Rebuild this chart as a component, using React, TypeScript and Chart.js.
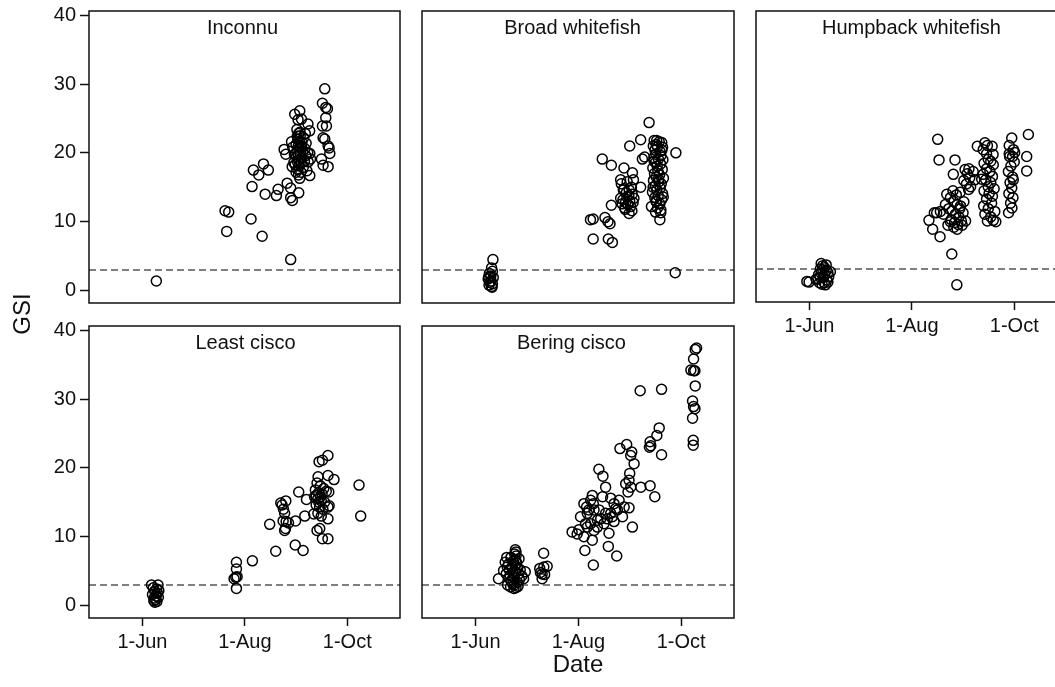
import React, { useEffect, useRef } from 'react';
import { Chart, registerables } from 'chart.js';

Chart.register(...registerables);

// ---- axis definitions (day of year) ----
const X_TICK_DAYS = [152, 213, 274];
const X_TICK_LABELS = ['1-Jun', '1-Aug', '1-Oct'];
const Y_TICKS = [0, 10, 20, 30, 40];
const X_MIN = 120.2;
const X_MAX = 305.4;
const Y_MIN = -1.8;
const Y_MAX = 40.6;
const THRESHOLD_GSI = 3;

// ---- Inconnu ----
const INCONNU_DAY = [
  160.3, 201.2, 203.4, 202.2, 216.7, 223.3, 217.3, 218.1, 221.3, 224.1, 227.0, 225.1,
  231.8, 232.8, 238.2, 240.3, 240.3, 241.3, 245.1, 240.3, 236.4, 237.4, 242.7, 245.7,
  246.7, 244.7, 250.6, 251.6, 251.7, 245.7, 250.7, 251.7, 252.1, 260.6, 259.2, 261.2,
  262.2, 261.2, 259.2, 261.6, 259.6, 260.6, 262.6, 263.2, 263.6, 258.6, 259.6, 262.6,
  244.0, 245.0, 246.0, 244.5, 245.5, 247.0, 243.5, 244.8, 246.2, 245.2, 247.5, 244.0,
  246.0, 245.0, 243.8, 247.0, 245.6, 244.4, 246.6, 243.0, 245.2, 247.8, 244.6, 246.4,
  245.0, 248.5, 249.2, 248.8, 249.5, 248.0, 242.5, 242.2, 241.5, 240.8, 241.2, 250.0,
  243.5, 249.0, 250.5, 245.8, 244.2, 246.8,
];
const INCONNU_GSI = [
  1.4, 11.6, 11.4, 8.6, 10.4, 7.9, 15.1, 17.5, 16.8, 18.4, 17.5, 14.0,
  13.8, 14.7, 15.6, 14.9, 13.5, 13.1, 14.2, 4.5, 20.5, 19.8, 25.6, 26.1,
  24.9, 24.8, 24.2, 23.2, 16.7, 16.3, 18.7, 19.9, 19.1, 29.3, 27.2, 26.6,
  26.4, 25.1, 23.9, 23.9, 22.2, 22.0, 21.0, 20.7, 19.9, 19.1, 18.2, 18.0,
  23.4, 22.8, 22.5, 22.0, 21.7, 21.5, 21.2, 21.0, 20.8, 20.5, 20.3, 20.1,
  19.9, 19.6, 19.4, 19.2, 19.0, 18.7, 18.5, 18.3, 18.1, 17.9, 17.6, 17.2,
  16.8, 18.8, 19.6, 20.6, 21.4, 22.2, 19.8, 18.6, 20.8, 21.6, 18.0, 17.4,
  17.2, 22.8, 20.0, 23.0, 22.4, 21.0,
];

// ---- Broad whitefish ----
const BROAD_DAY = [
  162.3, 161.5, 162.0, 160.2, 161.0, 162.5, 159.5, 161.2, 160.4, 162.0, 160.0, 161.5, 161.8, 159.8,
  270.5,
  221.8, 220.2, 228.8, 230.6, 231.8, 221.8, 230.8, 233.2,
  227.2, 232.6, 243.5, 250.0, 255.0, 270.9, 240.1, 245.1, 251.0, 252.4, 238.1, 245.7, 250.0,
  239.7, 238.1, 232.6, 243.1,
  238.5, 240.0, 241.5, 243.0, 239.5, 241.0, 242.5, 244.0, 240.5, 243.5, 245.0, 244.5, 242.0,
  239.0, 245.5, 241.8, 243.2, 240.8, 244.8, 246.0,
  258.0, 259.5, 261.0, 262.5, 257.5, 260.0, 263.0, 258.5, 261.5, 259.0, 262.0, 257.8, 260.5,
  263.2, 258.8, 261.8, 259.8, 257.2, 262.8, 260.2, 258.2, 261.2, 259.2, 263.5, 257.6, 260.8,
  262.2, 258.6, 261.6, 259.6, 257.0, 263.0, 260.4, 258.4, 262.4, 259.4, 261.4, 256.4, 260.0,
  262.0, 258.8, 261.9, 261.4, 259.0, 260.6, 258.0, 262.6, 259.2, 257.4, 263.4,
];
const BROAD_GSI = [
  4.5, 3.3, 2.8, 2.5, 2.1, 1.9, 1.7, 1.4, 1.2, 1.0, 0.8, 0.6, 0.5, 2.0,
  2.6,
  10.4, 10.3, 10.6, 10.0, 9.7, 7.5, 7.5, 7.0,
  19.1, 18.2, 21.0, 21.9, 24.4, 20.0, 17.8, 17.1, 19.1, 19.4, 16.1, 16.1, 15.0,
  14.6, 13.4, 12.4, 11.2,
  15.5, 14.8, 14.2, 13.8, 13.2, 12.8, 12.5, 12.2, 12.0, 13.0, 14.0, 15.0, 15.8,
  12.6, 12.8, 13.6, 14.6, 11.8, 11.6, 13.4,
  21.8, 21.8, 21.6, 21.5, 21.0, 20.9, 20.8, 20.4, 20.2, 19.8, 19.6, 19.3, 19.1,
  19.0, 18.6, 18.4, 18.1, 17.8, 17.6, 17.4, 17.0, 16.8, 16.5, 16.3, 16.0, 15.8,
  15.5, 15.2, 14.9, 14.6, 14.3, 14.1, 13.8, 13.5, 13.2, 12.9, 12.6, 12.2, 12.0,
  11.7, 11.4, 11.3, 10.3, 13.0, 16.2, 18.8, 20.4, 21.2, 15.0, 13.6,
];

// ---- Humpback whitefish ----
const HUMPBACK_DAY = [
  150.5, 151.8, 156.0, 157.5, 158.5, 159.0, 160.0, 161.0, 162.0, 163.0, 158.0, 159.5, 161.5,
  160.5, 162.5, 159.0, 161.0, 163.5, 157.0, 160.0, 164.5, 162.0, 158.5, 160.8, 163.0,
  236.8, 239.8,
  228.4, 229.2, 238.7, 237.7, 229.8, 225.4, 223.2, 226.4, 227.8, 233.8,
  236.0, 238.0, 240.0, 241.5, 237.0, 239.0, 241.0, 236.5, 238.5, 240.5, 242.5, 243.5, 242.0,
  235.0, 239.5, 241.8, 237.5, 244.0, 234.5, 238.0, 240.0, 243.0, 236.0, 245.0, 233.0, 231.8, 230.0,
  244.7, 246.0, 247.5, 245.5, 248.0, 249.5, 246.8, 244.0, 250.5, 247.0, 254.6, 252.0,
  256.5, 258.0, 260.8, 255.5, 257.5, 261.4, 258.5, 260.0, 256.0, 261.5, 257.5, 259.5, 255.5,
  261.0, 257.0, 260.0, 258.5, 262.0, 256.0, 259.0, 261.0, 257.5, 260.5, 255.8, 258.5, 262.4,
  256.5, 260.0, 261.5, 258.0, 263.0,
  272.5, 271.0, 273.5, 271.0, 273.0, 274.0, 272.0, 270.5, 273.0, 271.5, 272.5, 270.8, 273.2,
  271.8, 272.6, 270.6, 273.4, 271.2, 274.2,
  282.4, 281.4, 281.4,
];
const HUMPBACK_GSI = [
  1.2, 1.1, 1.5, 2.2, 3.0, 3.8, 3.5, 3.2, 2.8, 2.5, 1.0, 0.8, 0.7,
  1.8, 1.4, 2.4, 2.2, 1.9, 1.6, 2.9, 2.6, 3.6, 1.8, 1.0, 1.1,
  5.2, 0.7,
  21.9, 18.9, 18.9, 16.8, 7.7, 8.8, 10.1, 11.2, 11.2, 13.9,
  13.4, 12.8, 12.4, 11.8, 11.5, 11.0, 10.6, 10.2, 9.8, 9.5, 10.0, 11.2, 12.2,
  11.8, 13.8, 14.2, 14.4, 12.8, 9.4, 9.1, 8.8, 9.4, 9.9, 10.0, 12.4, 11.0, 11.4,
  17.5, 16.9, 16.3, 15.4, 15.0, 17.2, 14.6, 15.9, 16.0, 17.6, 16.1, 20.9,
  21.4, 21.0, 20.9, 20.4, 19.8, 19.7, 19.0, 18.7, 18.4, 18.2, 17.6, 17.2, 16.8,
  16.5, 16.0, 15.6, 15.0, 14.7, 14.4, 14.0, 13.6, 13.2, 12.6, 12.2, 11.8, 11.4,
  11.0, 10.6, 10.1, 10.0, 9.9,
  22.1, 21.0, 20.4, 19.8, 19.4, 18.6, 18.0, 17.2, 16.4, 15.6, 14.8, 14.0, 13.4,
  12.6, 11.9, 11.2, 16.0, 19.4, 20.0,
  22.6, 19.4, 17.3,
];

// ---- Least cisco ----
const LEAST_DAY = [
  157.4, 161.3, 158.5, 160.5, 159.3, 161.0, 158.0, 160.2, 159.0, 161.5, 159.8, 158.8, 160.6, 159.4, 161.8,
  208.0, 208.0, 206.6, 208.4, 207.6, 208.0, 217.5,
  227.8, 231.4, 234.4, 235.2, 236.0, 236.7, 237.4, 235.8, 237.6, 236.7, 237.2, 239.0, 243.0,
  243.2, 245.1, 247.7, 248.7, 249.7,
  262.5, 257.2, 259.2, 256.6, 262.5, 266.1, 256.0, 258.0, 260.0, 255.0, 257.0, 259.0, 261.5,
  263.0, 254.5, 256.5, 258.5, 260.5, 255.5, 257.5, 259.5, 262.5, 263.2, 254.0, 256.5, 258.5,
  262.5, 257.6, 256.0, 259.2, 262.5, 255.5, 258.0, 257.0,
  281.0, 282.0,
];
const LEAST_GSI = [
  3.0, 3.0, 2.6, 2.4, 2.1, 1.8, 1.6, 1.4, 1.1, 1.2, 0.9, 0.7, 0.6, 0.5, 2.2,
  6.3, 5.3, 3.9, 4.2, 4.1, 2.5, 6.5,
  11.8, 7.9, 14.9, 14.6, 14.0, 13.4, 15.2, 12.3, 12.2, 10.9, 11.2, 12.0, 8.8,
  12.3, 16.5, 8.0, 13.0, 15.4,
  21.8, 20.9, 21.1, 18.7, 18.9, 18.3, 17.8, 17.4, 17.0, 16.8, 16.4, 16.2, 16.6,
  16.5, 15.8, 15.5, 15.2, 15.0, 14.6, 14.3, 14.0, 14.3, 14.5, 13.3, 13.4, 13.0,
  12.6, 11.2, 10.9, 9.7, 9.7, 16.0, 15.8, 15.0,
  17.5, 13.0,
];

// ---- Bering cisco ----
const BERING_DAY = [
  165.6, 169.6, 168.6, 180.5, 181.5,
  170.5, 171.5, 172.0, 172.5, 173.0, 171.0, 172.8, 174.0, 174.5, 175.0, 175.5, 175.8, 176.0,
  176.0, 175.6, 175.2, 176.4, 177.0, 177.5, 178.0, 177.2, 176.0, 174.8, 173.6, 174.2, 173.0,
  171.8, 170.2, 178.5, 179.5, 176.8, 174.0, 175.0, 170.8, 177.8,
  192.4, 190.1, 192.5, 191.5, 191.5, 194.5, 190.5, 193.0,
  209.3, 212.3, 216.3, 216.9, 221.9, 225.2, 227.6, 229.2, 230.8, 235.8, 245.1, 243.1,
  237.7, 241.7, 244.1, 246.1, 241.1, 244.1, 250.1, 255.6, 258.4, 249.7, 262.4, 261.0, 259.6,
  255.6, 256.0, 255.2, 262.4, 243.1, 243.5, 242.5, 244.7,
  221.3, 221.9, 227.4, 232.2, 234.2, 237.2, 235.2, 239.2, 240.2, 232.2, 228.2, 231.2, 224.3,
  218.3, 214.3, 213.3, 218.3, 220.3, 222.3, 221.3, 216.3, 219.3, 226.3, 230.2, 234.2, 222.3,
  220.3, 225.3, 217.3, 224.3, 236.2, 229.2, 233.2, 217.9,
  283.2, 282.4, 281.4, 279.8, 281.4, 282.2, 282.4, 280.8, 281.4, 282.2, 280.8, 281.2, 281.2,
];
const BERING_GSI = [
  3.9, 6.3, 5.1, 3.9, 4.9,
  7.0, 6.0, 5.2, 4.4, 3.6, 3.0, 2.7, 3.2, 4.2, 5.0, 5.8, 6.6, 7.2,
  7.8, 8.1, 7.5, 6.2, 5.4, 4.6, 3.8, 2.8, 2.6, 2.5, 5.6, 6.4, 7.0,
  4.0, 4.6, 5.2, 4.3, 3.4, 4.8, 3.0, 5.6, 6.8,
  7.6, 5.4, 5.6, 4.6, 3.9, 5.7, 4.8, 4.5,
  10.7, 10.4, 14.8, 8.0, 5.9, 19.8, 18.8, 17.2, 8.6, 7.2, 11.4, 14.2,
  22.8, 23.4, 21.8, 20.6, 17.7, 17.2, 17.2, 17.4, 15.8, 31.2, 31.4, 25.8, 24.7,
  23.8, 23.2, 23.0, 21.9, 18.2, 19.2, 16.5, 22.3,
  16.0, 14.8, 15.8, 15.6, 14.8, 15.3, 14.1, 12.9, 14.3, 13.4, 11.9, 10.5, 12.4,
  13.4, 12.9, 11.0, 11.4, 11.9, 10.9, 9.5, 10.0, 13.9, 12.6, 12.6, 12.2, 13.9,
  15.3, 13.9, 11.9, 11.4, 13.9, 13.4, 12.9, 14.3,
  37.4, 37.2, 35.8, 34.2, 34.1, 34.1, 31.9, 29.7, 28.9, 28.6, 27.2, 24.0, 23.3,
];

const FONT_FAMILY = '"Liberation Sans", Arial, Helvetica, sans-serif';
Chart.defaults.font.family = FONT_FAMILY;

const PAD = 70;
const Y_AXIS_W = 60;
const X_AXIS_H = 56;

type Box = { left: number; top: number; width: number; height: number };

const framePlugin = {
  id: 'panelFrame',
  beforeDatasetsDraw(chart: any) {
    const { ctx, chartArea } = chart;
    const yScale = chart.scales.y;
    const yPix = yScale.getPixelForValue(THRESHOLD_GSI);
    ctx.save();
    ctx.beginPath();
    ctx.rect(chartArea.left, chartArea.top, chartArea.right - chartArea.left, chartArea.bottom - chartArea.top);
    ctx.clip();
    ctx.strokeStyle = '#555';
    ctx.lineWidth = 1.5;
    ctx.setLineDash([7, 4]);
    ctx.beginPath();
    ctx.moveTo(chartArea.left, yPix);
    ctx.lineTo(chartArea.right, yPix);
    ctx.stroke();
    ctx.restore();
  },
  afterDraw(chart: any) {
    const { ctx, chartArea } = chart;
    const opts = chart.options.plugins.panelFrame || {};
    const title = opts.text ?? '';
    const dx = opts.dx ?? 0;
    ctx.save();
    ctx.strokeStyle = '#111';
    ctx.lineWidth = 1.5;
    ctx.setLineDash([]);
    ctx.strokeRect(chartArea.left, chartArea.top, chartArea.right - chartArea.left, chartArea.bottom - chartArea.top);
    ctx.fillStyle = '#111';
    ctx.font = `20px ${FONT_FAMILY}`;
    ctx.textAlign = 'center';
    ctx.textBaseline = 'alphabetic';
    ctx.fillText(title, (chartArea.left + chartArea.right) / 2 + dx, chartArea.top + 22.5);
    ctx.restore();
  },
};

function Panel(props: {
  box: Box;
  title: string;
  titleDx?: number;
  days: number[];
  gsi: number[];
  showX: boolean;
  showY: boolean;
}) {
  const { box, title, titleDx, days, gsi, showX, showY } = props;
  const ref = useRef<HTMLCanvasElement>(null);
  const cw = box.width + 2 * PAD;
  const ch = box.height + 2 * PAD;

  useEffect(() => {
    const points = days.map((d, i) => ({ x: d, y: gsi[i] }));
    const chart = new Chart(ref.current as HTMLCanvasElement, {
      type: 'scatter',
      data: {
        datasets: [
          {
            data: points,
            pointStyle: 'circle',
            pointRadius: 5,
            pointHoverRadius: 5,
            pointBorderWidth: 1.5,
            pointBorderColor: '#000',
            pointBackgroundColor: 'rgba(0,0,0,0)',
          } as any,
        ],
      },
      options: {
        animation: false,
        responsive: false,
        maintainAspectRatio: false,
        events: [],
        layout: {
          padding: {
            left: showY ? PAD - Y_AXIS_W : PAD,
            right: PAD,
            top: PAD,
            bottom: showX ? PAD - X_AXIS_H : PAD,
          },
        },
        plugins: {
          legend: { display: false },
          tooltip: { enabled: false },
          panelFrame: { text: title, dx: titleDx ?? 0 },
        } as any,
        scales: {
          x: {
            type: 'linear',
            min: X_MIN,
            max: X_MAX,
            display: showX,
            afterFit: (s: any) => {
              s.height = showX ? X_AXIS_H : 0;
            },
            afterBuildTicks: (s: any) => {
              s.ticks = X_TICK_DAYS.map((v) => ({ value: v }));
            },
            ticks: {
              callback: (_v: any, i: number) => X_TICK_LABELS[i],
              font: { size: 20 },
              color: '#111',
              padding: 4,
              maxRotation: 0,
              autoSkip: false,
            },
            grid: { drawOnChartArea: false, drawTicks: true, tickLength: 8, tickColor: '#111', tickWidth: 1.5, color: '#111' },
            border: { display: false },
          },
          y: {
            type: 'linear',
            min: Y_MIN,
            max: Y_MAX,
            display: showY,
            afterFit: (s: any) => {
              s.width = showY ? Y_AXIS_W : 0;
            },
            afterBuildTicks: (s: any) => {
              s.ticks = Y_TICKS.map((v) => ({ value: v }));
            },
            ticks: {
              callback: (v: any) => String(v),
              font: { size: 20 },
              color: '#111',
              padding: 4,
              autoSkip: false,
            },
            grid: { drawOnChartArea: false, drawTicks: true, tickLength: 9, tickColor: '#111', tickWidth: 1.5, color: '#111' },
            border: { display: false },
          },
        },
      },
      plugins: [framePlugin],
    });
    return () => chart.destroy();
  }, []);

  return (
    <canvas
      ref={ref}
      width={cw}
      height={ch}
      style={{ position: 'absolute', left: box.left - PAD, top: box.top - PAD, width: cw, height: ch }}
    />
  );
}

const BOX_W = 311;
const BOX_H = 292;

export default function App() {
  return (
    <div
      style={{
        position: 'absolute',
        left: 0,
        top: 0,
        width: 1055,
        height: 687,
        overflow: 'hidden',
        background: '#fff',
        fontFamily: FONT_FAMILY,
      }}
    >
      <Panel box={{ left: 89, top: 11, width: BOX_W, height: BOX_H }} title="Inconnu" titleDx={-2} days={INCONNU_DAY} gsi={INCONNU_GSI} showX={false} showY={true} />
      <Panel box={{ left: 422, top: 11, width: 312, height: BOX_H }} title="Broad whitefish" titleDx={-5.5} days={BROAD_DAY} gsi={BROAD_GSI} showX={false} showY={false} />
      <Panel box={{ left: 756, top: 11, width: BOX_W, height: 291 }} title="Humpback whitefish" days={HUMPBACK_DAY} gsi={HUMPBACK_GSI} showX={true} showY={false} />
      <Panel box={{ left: 89, top: 326, width: BOX_W, height: BOX_H }} title="Least cisco" titleDx={1} days={LEAST_DAY} gsi={LEAST_GSI} showX={true} showY={true} />
      <Panel box={{ left: 422, top: 326, width: 312, height: BOX_H }} title="Bering cisco" titleDx={-6.5} days={BERING_DAY} gsi={BERING_GSI} showX={true} showY={false} />
      <div
        style={{
          position: 'absolute',
          left: 478,
          top: 651.7,
          width: 200,
          textAlign: 'center',
          fontSize: 24,
          lineHeight: '24px',
          color: '#111',
        }}
      >
        Date
      </div>
      <div
        style={{
          position: 'absolute',
          left: 21.7 - 50,
          top: 314 - 12,
          width: 100,
          height: 24,
          textAlign: 'center',
          fontSize: 24,
          lineHeight: '24px',
          color: '#111',
          transform: 'rotate(-90deg)',
        }}
      >
        GSI
      </div>
    </div>
  );
}
